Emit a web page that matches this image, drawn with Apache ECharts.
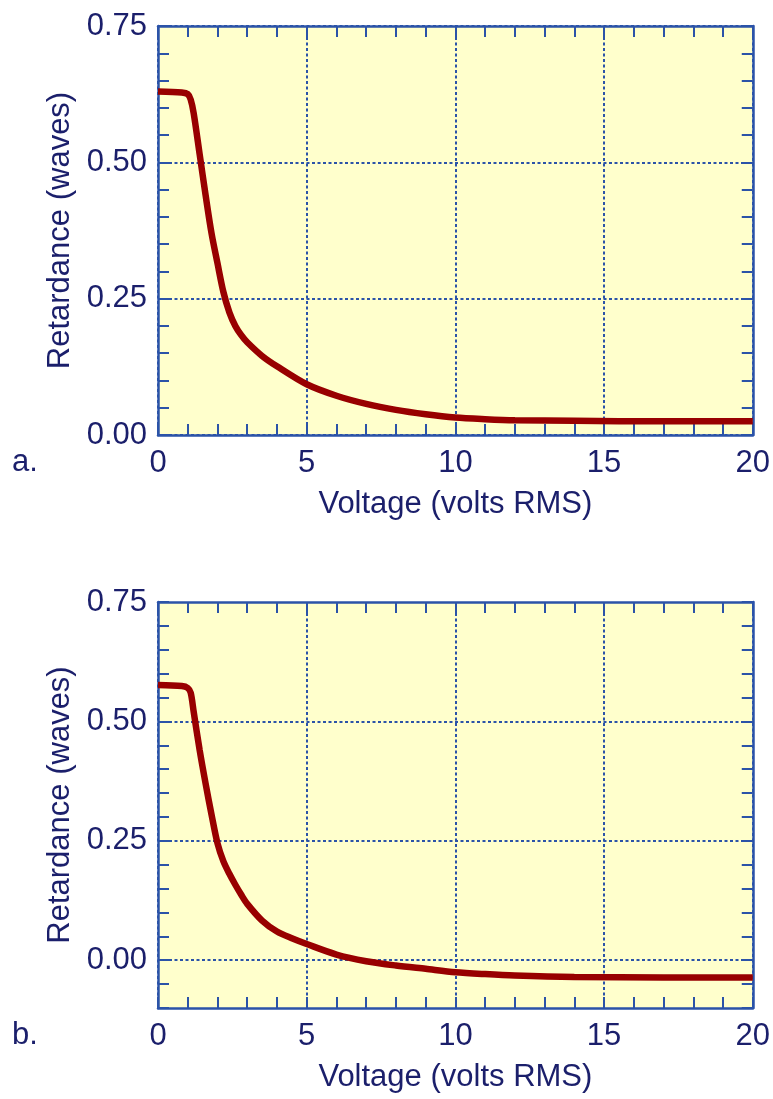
<!DOCTYPE html>
<html>
<head>
<meta charset="utf-8">
<script src="https://cdn.jsdelivr.net/npm/echarts@6/dist/echarts.min.js"></script>
<style>
html,body{margin:0;padding:0;background:#ffffff;}
#chart{width:773px;height:1099px;}
</style>
</head>
<body>
<div id="chart"></div>
<script>
// ---- data ----
const voltsA = [0, 0.8, 1.0, 1.1, 1.2, 1.4, 1.6, 1.8, 2.0, 2.2, 2.4, 2.6, 2.8, 3.0, 3.5, 4.0, 5, 6, 7, 8, 9, 10, 11, 12, 14, 17, 20];
const retardA = [0.630, 0.628, 0.625, 0.615, 0.590, 0.515, 0.440, 0.370, 0.315, 0.262, 0.225, 0.200, 0.183, 0.170, 0.145, 0.126, 0.093, 0.072, 0.057, 0.046, 0.038, 0.032, 0.029, 0.027, 0.026, 0.025, 0.025];
const voltsB = [0, 0.8, 1.0, 1.1, 1.2, 1.4, 1.6, 1.8, 2.0, 2.2, 2.4, 2.6, 2.8, 3.0, 3.5, 4.0, 4.5, 5, 6, 7, 8, 9, 10, 11, 12, 14, 17, 20];
const retardB = [0.576, 0.574, 0.570, 0.560, 0.520, 0.440, 0.370, 0.305, 0.245, 0.207, 0.181, 0.158, 0.137, 0.118, 0.083, 0.060, 0.046, 0.034, 0.012, -0.002, -0.011, -0.018, -0.025, -0.029, -0.032, -0.035, -0.036, -0.036];
const xTicks = [0, 5, 10, 15, 20];
const yLabelValues = [0, 0.25, 0.5, 0.75];
const panelLabels = ['a.', 'b.'];
const xTitle = 'Voltage (volts RMS)';
const yTitle = 'Retardance (waves)';

// ---- style ----
const AX = '#2b53a8';
const TXT = '#1b1f6b';
const FONT = "'Liberation Sans', Arial, sans-serif";
const RED = '#980000';

const chart = echarts.init(document.getElementById('chart'), null, {renderer: 'canvas'});

const gridLine = {show: true, lineStyle: {color: AX, width: 2, type: [3, 2.5]}};
const axLine = {show: true, onZero: false, lineStyle: {color: AX, width: 2.5}};
const tick = {show: true, inside: true, length: 11, lineStyle: {color: AX, width: 2}};
const minor = {show: true, splitNumber: 5, length: 11, lineStyle: {color: AX, width: 2}};

function xAxes(gi) {
  return [
    {
      gridIndex: gi, type: 'value', position: 'bottom', min: 0, max: 20, interval: 5,
      axisLine: axLine, axisTick: tick, minorTick: minor, splitLine: gridLine,
      axisLabel: {color: TXT, fontFamily: FONT, fontSize: 31, margin: 13},
      name: xTitle, nameLocation: 'middle', nameGap: 54,
      nameTextStyle: {color: TXT, fontFamily: FONT, fontSize: 31}
    },
    {
      gridIndex: gi, type: 'value', position: 'top', min: 0, max: 20, interval: 5,
      axisLine: axLine, axisTick: tick, minorTick: minor, splitLine: {show: false},
      axisLabel: {show: false}
    }
  ];
}

function labelFmt(v) {
  for (const t of yLabelValues) if (Math.abs(v - t) < 1e-6) return t.toFixed(2);
  return '';
}

function yAxes(gi, min) {
  const useStd = (min === 0);
  const base = {
    gridIndex: gi, type: 'value', min: min, max: 0.75,
    interval: useStd ? 0.25 : 0.05,
    axisLine: axLine, axisTick: tick,
    minorTick: useStd ? minor : {show: false}
  };
  return [
    Object.assign({}, base, {
      position: 'left',
      splitLine: useStd ? gridLine : {show: false},
      axisLabel: {color: TXT, fontFamily: FONT, fontSize: 31, margin: 11, formatter: labelFmt},
      name: yTitle, nameLocation: 'middle', nameGap: 82, nameRotate: 90,
      nameTextStyle: {color: TXT, fontFamily: FONT, fontSize: 31}
    }),
    Object.assign({}, base, {
      position: 'right', splitLine: {show: false}, axisLabel: {show: false}
    })
  ];
}

function pairs(xs, ys) { return xs.map((x, i) => [x, ys[i]]); }

const option = {
  animation: false,
  backgroundColor: '#ffffff',
  grid: [
    {left: 158, top: 26, width: 599, height: 409, show: true, backgroundColor: '#ffffcc', borderWidth: 0},
    {left: 158, top: 602, width: 599, height: 406, show: true, backgroundColor: '#ffffcc', borderWidth: 0}
  ],
  xAxis: [...xAxes(0), ...xAxes(1)],
  yAxis: [...yAxes(0, 0), ...yAxes(1, -0.1)],
  graphic: [
    {type: 'text', left: 12, top: 447, style: {text: panelLabels[0], fill: TXT, font: '31px ' + FONT}},
    {type: 'text', left: 12, top: 1020, style: {text: panelLabels[1], fill: TXT, font: '31px ' + FONT}}
  ],
  series: [
    {
      type: 'line', xAxisIndex: 0, yAxisIndex: 0, data: pairs(voltsA, retardA),
      smooth: 0.3, showSymbol: false, lineStyle: {color: RED, width: 6.5}, z: 5
    },
    {
      type: 'line', xAxisIndex: 2, yAxisIndex: 2, data: pairs(voltsB, retardB),
      smooth: 0.3, showSymbol: false, lineStyle: {color: RED, width: 6.5}, z: 5,
      markLine: {
        silent: true, symbol: 'none', label: {show: false}, animation: false,
        lineStyle: {color: AX, width: 2, type: [3, 2.5]},
        data: yLabelValues.slice(0, 3).map(v => ({yAxis: v}))
      }
    }
  ]
};
chart.setOption(option);
</script>
</body>
</html>
